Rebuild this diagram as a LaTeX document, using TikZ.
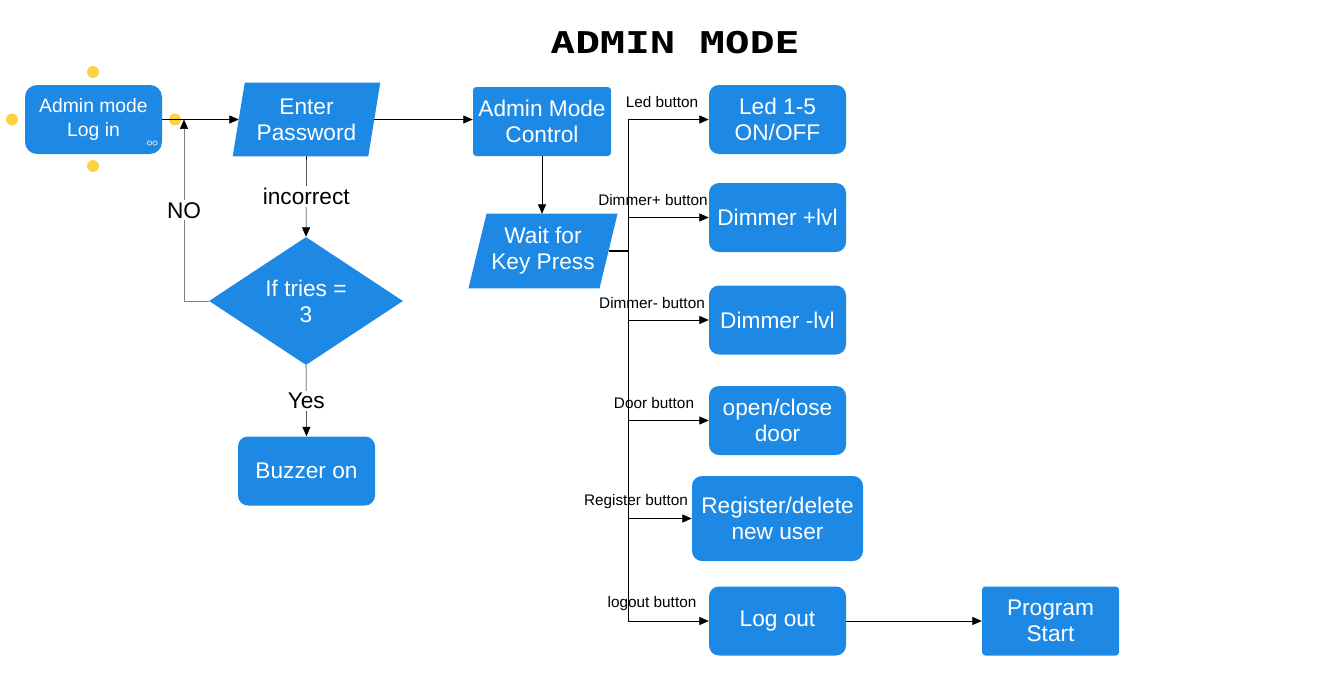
\documentclass[tikz,border=0pt]{standalone}
\usepackage{fontspec}
\setmainfont{Liberation Sans}
\newfontfamily\titlefont{DejaVu Sans Mono}
\usepackage{tikz}
\usetikzlibrary{shapes.geometric,arrows.meta,backgrounds}
\definecolor{boxblue}{RGB}{30,137,228}
\definecolor{dotyellow}{RGB}{253,210,64}
\definecolor{linegray}{RGB}{128,128,128}

\begin{document}
\begin{tikzpicture}[x=0.75pt,y=-0.75pt,
  every node/.style={font=\fontsize{17}{19.5}\selectfont},
  roundbox/.style={fill=boxblue, text=white, rounded corners=7.5pt, align=center,
    minimum width=102.75pt, minimum height=51.75pt, inner sep=2pt},
  sharpbox/.style={roundbox, rounded corners=2.5pt},
  iobox/.style={text=white, align=center, inner sep=2pt},
  decision/.style={diamond, aspect=1.52, fill=boxblue, text=white, align=center,
    minimum width=145.5pt, minimum height=96pt, inner sep=0pt},
  btnlabel/.style={font=\fontsize{11.5}{13}\selectfont, inner sep=1pt},
  edgelabel/.style={fill=white, inner sep=1.5pt},
  arrow/.style={-{Triangle[length=7pt,width=6pt,color=black]}}]
             \useasboundingbox (0,0) rectangle (1330,685);

             \node (title) at (675,43) {\titlefont\fontsize{22.5}{24}\selectfont\bfseries\scalebox{1.38}[1]{ADMIN MODE}};

             % left part: log in and password check
             \node[roundbox, rounded corners=9pt, font=\fontsize{14.5}{18}\selectfont] (login) at (93.5,119.5) {Admin mode\\Log in};
             \fill[dotyellow] (93,72) circle (4.5pt);
             \fill[dotyellow] (12,119.5) circle (4.5pt);
             \fill[dotyellow] (175,119.5) circle (4.5pt);
             \fill[dotyellow] (93,166) circle (4.5pt);
             \draw[white!75!gray, line width=.6pt] (149.5,143) circle (1.6pt) (155,143) circle (1.6pt);

             \node[iobox, minimum width=101.25pt, minimum height=54.75pt] (pass) at (306.5,119.5) {Enter\\Password};
             \node[decision] (tries) at (306,301) {If tries =\\3};
             \node[roundbox] (buzzer) at (306.5,471) {Buzzer on};

             \draw[arrow] (login.east) -- (pass.west);
             \draw[arrow] (pass.south) -- (tries.north) node[midway, edgelabel] {incorrect};
             \draw[arrow] (tries.south) -- (buzzer.north) node[midway, edgelabel] {Yes};
             \coordinate (nojoin) at (184,119.5);
             \draw[linegray, arrow] (tries.west) -| (nojoin) node[pos=.75, edgelabel, text=black] {NO};

             % middle part: control and key press
             \node[sharpbox, minimum width=103.5pt] (ctrl) at (542,121.5) {Admin Mode\\Control};
             \node[iobox, minimum width=97.9pt, minimum height=55.5pt] (wait) at (543,251) {Wait for\\Key Press};
             \draw[arrow] (pass.east) -- (pass.east -| ctrl.west);
             \draw[arrow] (ctrl.south) -- (ctrl.south |- wait.north);

             \begin{scope}[on background layer]
               \fill[boxblue] ([xshift=4.5pt]pass.north west) -- ([xshift=4.5pt]pass.north east)
                 -- ([xshift=-4.5pt]pass.south east) -- ([xshift=-4.5pt]pass.south west) -- cycle;
               \fill[boxblue] ([xshift=6.75pt]wait.north west) -- ([xshift=6.75pt]wait.north east)
                 -- ([xshift=-6.75pt]wait.south east) -- ([xshift=-6.75pt]wait.south west) -- cycle;
             \end{scope}

             % right part: buttons
             \node[roundbox] (led) at (777.5,119.5) {Led 1-5\\ON/OFF};
             \node[roundbox] (dimup) at (777.5,217.5) {Dimmer +lvl};
             \node[roundbox] (dimdown) at (777.5,320) {Dimmer -lvl};
             \node[roundbox] (door) at (777.5,420.5) {open/close\\door};
             \node[roundbox, minimum width=128.25pt, minimum height=63.75pt] (reg) at (777.5,518.5) {Register/delete\\new user};
             \node[roundbox] (logout) at (777.5,621) {Log out};
             \node[sharpbox] (start) at (1050.5,621) {Program\\Start};

             \coordinate (trunk) at (628,251);
             \draw[line width=1.2pt] (wait.east) -- (trunk);
             \draw (trunk |- led.west) -- (trunk |- logout.west);
             \foreach \blk/\txt/\lx in {led/Led button/662, dimup/Dimmer+ button/653,
                 dimdown/Dimmer- button/652, door/Door button/654,
                 reg/Register button/636, logout/logout button/652}
             {
               \draw[arrow] (trunk |- \blk.west) -- (\blk.west);
               \path (trunk |- \blk.west) ++({\lx-628},-17) node[btnlabel] {\txt};
             }
             \draw[arrow] (logout.east) -- (start.west);
             \end{tikzpicture}
\end{document}
